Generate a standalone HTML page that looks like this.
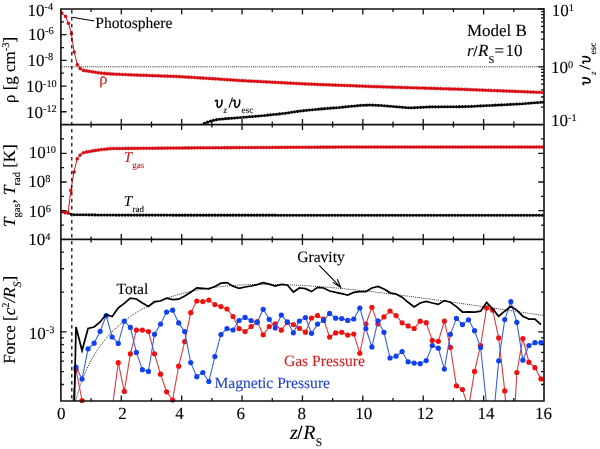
<!DOCTYPE html><html><head><meta charset="utf-8"><style>html,body{margin:0;padding:0;background:#fff;width:600px;height:449px;overflow:hidden}svg{display:block;will-change:transform}text{font-family:"Liberation Serif",serif;fill:#000;stroke:#000;stroke-width:0.1px;text-rendering:geometricPrecision}.it{font-style:italic}</style></head><body>
<svg width="600" height="449" viewBox="0 0 600 449">
<rect width="600" height="449" fill="#fff"/>
<defs>
<clipPath id="c1"><rect x="60.9" y="9" width="483.1" height="115.6"/></clipPath>
<clipPath id="c2"><rect x="60.9" y="124.6" width="483.1" height="114.8"/></clipPath>
<clipPath id="c3"><rect x="60.9" y="239.4" width="483.1" height="161.6"/></clipPath>
</defs>
<g clip-path="url(#c1)">
<path d="M61.7,13 L65.6,16.4 L68.5,23.3 L71.4,33.7 L74.2,52 L77.3,64.6 L80.2,68.6 L83.4,70.4 L86.4,70.85 L89.4,71.31 L92.4,71.78 L95.4,72.26 L98.4,72.74 L101.4,73.13 L104.4,73.4 L107.4,73.67 L110.4,73.92 L113.4,74.05 L116.4,74.18 L119.4,74.31 L122.4,74.44 L125.4,74.57 L128.4,74.7 L131.4,74.83 L134.4,74.96 L137.4,75.09 L140.4,75.21 L143.4,75.32 L146.4,75.42 L149.4,75.53 L152.4,75.63 L155.4,75.74 L158.4,75.84 L161.4,75.95 L164.4,76.05 L167.4,76.16 L170.4,76.26 L173.4,76.37 L176.4,76.47 L179.4,76.58 L182.4,76.75 L185.4,76.94 L188.4,77.13 L191.4,77.32 L194.4,77.51 L197.4,77.7 L200.4,77.89 L203.4,78.08 L206.4,78.27 L209.4,78.46 L212.4,78.66 L215.4,78.86 L218.4,79.06 L221.4,79.26 L224.4,79.46 L227.4,79.66 L230.4,79.86 L233.4,80.06 L236.4,80.26 L239.4,80.46 L242.4,80.63 L245.4,80.78 L248.4,80.94 L251.4,81.1 L254.4,81.25 L257.4,81.41 L260.4,81.57 L263.4,81.72 L266.4,81.88 L269.4,82.04 L272.4,82.19 L275.4,82.35 L278.4,82.51 L281.4,82.66 L284.4,82.82 L287.4,82.98 L290.4,83.13 L293.4,83.29 L296.4,83.45 L299.4,83.6 L302.4,83.76 L305.4,83.92 L308.4,84.05 L311.4,84.17 L314.4,84.28 L317.4,84.4 L320.4,84.51 L323.4,84.63 L326.4,84.74 L329.4,84.86 L332.4,84.97 L335.4,85.09 L338.4,85.2 L341.4,85.32 L344.4,85.43 L347.4,85.54 L350.4,85.66 L353.4,85.77 L356.4,85.89 L359.4,86 L362.4,86.12 L365.4,86.23 L368.4,86.35 L371.4,86.46 L374.4,86.58 L377.4,86.67 L380.4,86.77 L383.4,86.86 L386.4,86.95 L389.4,87.04 L392.4,87.13 L395.4,87.22 L398.4,87.32 L401.4,87.41 L404.4,87.5 L407.4,87.59 L410.4,87.68 L413.4,87.77 L416.4,87.87 L419.4,87.96 L422.4,88.05 L425.4,88.14 L428.4,88.23 L431.4,88.33 L434.4,88.42 L437.4,88.51 L440.4,88.6 L443.4,88.69 L446.4,88.78 L449.4,88.88 L452.4,88.97 L455.4,89.06 L458.4,89.15 L461.4,89.25 L464.4,89.37 L467.4,89.49 L470.4,89.61 L473.4,89.73 L476.4,89.84 L479.4,89.96 L482.4,90.08 L485.4,90.2 L488.4,90.32 L491.4,90.43 L494.4,90.55 L497.4,90.67 L500.4,90.79 L503.4,90.91 L506.4,91.02 L509.4,91.14 L512.4,91.26 L515.4,91.38 L518.4,91.49 L521.4,91.61 L524.4,91.73 L527.4,91.85 L530.4,91.97 L533.4,92.08 L536.4,92.2 L539.4,92.32 L542.4,92.44" fill="none" stroke="#e60a14" stroke-width="1"/>
<g fill="#e60a14" stroke="#b80000" stroke-width="0.4">
<circle cx="61.7" cy="13" r="1.55"/>
<circle cx="65.6" cy="16.4" r="1.55"/>
<circle cx="68.5" cy="23.3" r="1.55"/>
<circle cx="71.4" cy="33.7" r="1.55"/>
<circle cx="74.2" cy="52" r="1.55"/>
<circle cx="77.3" cy="64.6" r="1.55"/>
<circle cx="80.2" cy="68.6" r="1.55"/>
<circle cx="83.4" cy="70.4" r="1.55"/>
<circle cx="86.4" cy="70.85" r="1.55"/>
<circle cx="89.4" cy="71.31" r="1.55"/>
<circle cx="92.4" cy="71.78" r="1.55"/>
<circle cx="95.4" cy="72.26" r="1.55"/>
<circle cx="98.4" cy="72.74" r="1.55"/>
<circle cx="101.4" cy="73.13" r="1.55"/>
<circle cx="104.4" cy="73.4" r="1.55"/>
<circle cx="107.4" cy="73.67" r="1.55"/>
<circle cx="110.4" cy="73.92" r="1.55"/>
<circle cx="113.4" cy="74.05" r="1.55"/>
<circle cx="116.4" cy="74.18" r="1.55"/>
<circle cx="119.4" cy="74.31" r="1.55"/>
<circle cx="122.4" cy="74.44" r="1.55"/>
<circle cx="125.4" cy="74.57" r="1.55"/>
<circle cx="128.4" cy="74.7" r="1.55"/>
<circle cx="131.4" cy="74.83" r="1.55"/>
<circle cx="134.4" cy="74.96" r="1.55"/>
<circle cx="137.4" cy="75.09" r="1.55"/>
<circle cx="140.4" cy="75.21" r="1.55"/>
<circle cx="143.4" cy="75.32" r="1.55"/>
<circle cx="146.4" cy="75.42" r="1.55"/>
<circle cx="149.4" cy="75.53" r="1.55"/>
<circle cx="152.4" cy="75.63" r="1.55"/>
<circle cx="155.4" cy="75.74" r="1.55"/>
<circle cx="158.4" cy="75.84" r="1.55"/>
<circle cx="161.4" cy="75.95" r="1.55"/>
<circle cx="164.4" cy="76.05" r="1.55"/>
<circle cx="167.4" cy="76.16" r="1.55"/>
<circle cx="170.4" cy="76.26" r="1.55"/>
<circle cx="173.4" cy="76.37" r="1.55"/>
<circle cx="176.4" cy="76.47" r="1.55"/>
<circle cx="179.4" cy="76.58" r="1.55"/>
<circle cx="182.4" cy="76.75" r="1.55"/>
<circle cx="185.4" cy="76.94" r="1.55"/>
<circle cx="188.4" cy="77.13" r="1.55"/>
<circle cx="191.4" cy="77.32" r="1.55"/>
<circle cx="194.4" cy="77.51" r="1.55"/>
<circle cx="197.4" cy="77.7" r="1.55"/>
<circle cx="200.4" cy="77.89" r="1.55"/>
<circle cx="203.4" cy="78.08" r="1.55"/>
<circle cx="206.4" cy="78.27" r="1.55"/>
<circle cx="209.4" cy="78.46" r="1.55"/>
<circle cx="212.4" cy="78.66" r="1.55"/>
<circle cx="215.4" cy="78.86" r="1.55"/>
<circle cx="218.4" cy="79.06" r="1.55"/>
<circle cx="221.4" cy="79.26" r="1.55"/>
<circle cx="224.4" cy="79.46" r="1.55"/>
<circle cx="227.4" cy="79.66" r="1.55"/>
<circle cx="230.4" cy="79.86" r="1.55"/>
<circle cx="233.4" cy="80.06" r="1.55"/>
<circle cx="236.4" cy="80.26" r="1.55"/>
<circle cx="239.4" cy="80.46" r="1.55"/>
<circle cx="242.4" cy="80.63" r="1.55"/>
<circle cx="245.4" cy="80.78" r="1.55"/>
<circle cx="248.4" cy="80.94" r="1.55"/>
<circle cx="251.4" cy="81.1" r="1.55"/>
<circle cx="254.4" cy="81.25" r="1.55"/>
<circle cx="257.4" cy="81.41" r="1.55"/>
<circle cx="260.4" cy="81.57" r="1.55"/>
<circle cx="263.4" cy="81.72" r="1.55"/>
<circle cx="266.4" cy="81.88" r="1.55"/>
<circle cx="269.4" cy="82.04" r="1.55"/>
<circle cx="272.4" cy="82.19" r="1.55"/>
<circle cx="275.4" cy="82.35" r="1.55"/>
<circle cx="278.4" cy="82.51" r="1.55"/>
<circle cx="281.4" cy="82.66" r="1.55"/>
<circle cx="284.4" cy="82.82" r="1.55"/>
<circle cx="287.4" cy="82.98" r="1.55"/>
<circle cx="290.4" cy="83.13" r="1.55"/>
<circle cx="293.4" cy="83.29" r="1.55"/>
<circle cx="296.4" cy="83.45" r="1.55"/>
<circle cx="299.4" cy="83.6" r="1.55"/>
<circle cx="302.4" cy="83.76" r="1.55"/>
<circle cx="305.4" cy="83.92" r="1.55"/>
<circle cx="308.4" cy="84.05" r="1.55"/>
<circle cx="311.4" cy="84.17" r="1.55"/>
<circle cx="314.4" cy="84.28" r="1.55"/>
<circle cx="317.4" cy="84.4" r="1.55"/>
<circle cx="320.4" cy="84.51" r="1.55"/>
<circle cx="323.4" cy="84.63" r="1.55"/>
<circle cx="326.4" cy="84.74" r="1.55"/>
<circle cx="329.4" cy="84.86" r="1.55"/>
<circle cx="332.4" cy="84.97" r="1.55"/>
<circle cx="335.4" cy="85.09" r="1.55"/>
<circle cx="338.4" cy="85.2" r="1.55"/>
<circle cx="341.4" cy="85.32" r="1.55"/>
<circle cx="344.4" cy="85.43" r="1.55"/>
<circle cx="347.4" cy="85.54" r="1.55"/>
<circle cx="350.4" cy="85.66" r="1.55"/>
<circle cx="353.4" cy="85.77" r="1.55"/>
<circle cx="356.4" cy="85.89" r="1.55"/>
<circle cx="359.4" cy="86" r="1.55"/>
<circle cx="362.4" cy="86.12" r="1.55"/>
<circle cx="365.4" cy="86.23" r="1.55"/>
<circle cx="368.4" cy="86.35" r="1.55"/>
<circle cx="371.4" cy="86.46" r="1.55"/>
<circle cx="374.4" cy="86.58" r="1.55"/>
<circle cx="377.4" cy="86.67" r="1.55"/>
<circle cx="380.4" cy="86.77" r="1.55"/>
<circle cx="383.4" cy="86.86" r="1.55"/>
<circle cx="386.4" cy="86.95" r="1.55"/>
<circle cx="389.4" cy="87.04" r="1.55"/>
<circle cx="392.4" cy="87.13" r="1.55"/>
<circle cx="395.4" cy="87.22" r="1.55"/>
<circle cx="398.4" cy="87.32" r="1.55"/>
<circle cx="401.4" cy="87.41" r="1.55"/>
<circle cx="404.4" cy="87.5" r="1.55"/>
<circle cx="407.4" cy="87.59" r="1.55"/>
<circle cx="410.4" cy="87.68" r="1.55"/>
<circle cx="413.4" cy="87.77" r="1.55"/>
<circle cx="416.4" cy="87.87" r="1.55"/>
<circle cx="419.4" cy="87.96" r="1.55"/>
<circle cx="422.4" cy="88.05" r="1.55"/>
<circle cx="425.4" cy="88.14" r="1.55"/>
<circle cx="428.4" cy="88.23" r="1.55"/>
<circle cx="431.4" cy="88.33" r="1.55"/>
<circle cx="434.4" cy="88.42" r="1.55"/>
<circle cx="437.4" cy="88.51" r="1.55"/>
<circle cx="440.4" cy="88.6" r="1.55"/>
<circle cx="443.4" cy="88.69" r="1.55"/>
<circle cx="446.4" cy="88.78" r="1.55"/>
<circle cx="449.4" cy="88.88" r="1.55"/>
<circle cx="452.4" cy="88.97" r="1.55"/>
<circle cx="455.4" cy="89.06" r="1.55"/>
<circle cx="458.4" cy="89.15" r="1.55"/>
<circle cx="461.4" cy="89.25" r="1.55"/>
<circle cx="464.4" cy="89.37" r="1.55"/>
<circle cx="467.4" cy="89.49" r="1.55"/>
<circle cx="470.4" cy="89.61" r="1.55"/>
<circle cx="473.4" cy="89.73" r="1.55"/>
<circle cx="476.4" cy="89.84" r="1.55"/>
<circle cx="479.4" cy="89.96" r="1.55"/>
<circle cx="482.4" cy="90.08" r="1.55"/>
<circle cx="485.4" cy="90.2" r="1.55"/>
<circle cx="488.4" cy="90.32" r="1.55"/>
<circle cx="491.4" cy="90.43" r="1.55"/>
<circle cx="494.4" cy="90.55" r="1.55"/>
<circle cx="497.4" cy="90.67" r="1.55"/>
<circle cx="500.4" cy="90.79" r="1.55"/>
<circle cx="503.4" cy="90.91" r="1.55"/>
<circle cx="506.4" cy="91.02" r="1.55"/>
<circle cx="509.4" cy="91.14" r="1.55"/>
<circle cx="512.4" cy="91.26" r="1.55"/>
<circle cx="515.4" cy="91.38" r="1.55"/>
<circle cx="518.4" cy="91.49" r="1.55"/>
<circle cx="521.4" cy="91.61" r="1.55"/>
<circle cx="524.4" cy="91.73" r="1.55"/>
<circle cx="527.4" cy="91.85" r="1.55"/>
<circle cx="530.4" cy="91.97" r="1.55"/>
<circle cx="533.4" cy="92.08" r="1.55"/>
<circle cx="536.4" cy="92.2" r="1.55"/>
<circle cx="539.4" cy="92.32" r="1.55"/>
<circle cx="542.4" cy="92.44" r="1.55"/>
</g>
</g>
<g clip-path="url(#c1)">
<path d="M201.5,125 L204.5,123.25 L207.5,122.13 L210.5,121.08 L213.5,120.36 L216.5,119.64 L219.5,119.21 L222.5,118.93 L225.5,118.66 L228.5,118.42 L231.5,118.18 L234.5,117.94 L237.5,117.7 L240.5,117.46 L243.5,117.24 L246.5,117.02 L249.5,116.8 L252.5,116.58 L255.5,116.35 L258.5,116.05 L261.5,115.75 L264.5,115.45 L267.5,115.15 L270.5,114.85 L273.5,114.53 L276.5,114.21 L279.5,113.89 L282.5,113.57 L285.5,113.22 L288.5,112.76 L291.5,112.3 L294.5,111.84 L297.5,111.38 L300.5,110.95 L303.5,110.65 L306.5,110.35 L309.5,110.05 L312.5,109.75 L315.5,109.45 L318.5,109.15 L321.5,108.88 L324.5,108.64 L327.5,108.4 L330.5,108.16 L333.5,107.92 L336.5,107.68 L339.5,107.44 L342.5,107.15 L345.5,106.85 L348.5,106.55 L351.5,106.25 L354.5,105.95 L357.5,105.65 L360.5,105.38 L363.5,105.26 L366.5,105.14 L369.5,105.02 L372.5,105.1 L375.5,105.22 L378.5,105.34 L381.5,105.52 L384.5,105.76 L387.5,106 L390.5,106.24 L393.5,106.5 L396.5,106.75 L399.5,107.01 L402.5,107.26 L405.5,107.52 L408.5,107.77 L411.5,107.82 L414.5,107.66 L417.5,107.51 L420.5,107.35 L423.5,107.19 L426.5,107.03 L429.5,106.9 L432.5,106.87 L435.5,106.85 L438.5,106.83 L441.5,106.8 L444.5,106.78 L447.5,106.75 L450.5,106.73 L453.5,106.71 L456.5,106.68 L459.5,106.66 L462.5,106.64 L465.5,106.61 L468.5,106.52 L471.5,106.38 L474.5,106.22 L477.5,106.07 L480.5,105.92 L483.5,105.77 L486.5,105.62 L489.5,105.47 L492.5,105.33 L495.5,105.17 L498.5,105.02 L501.5,104.88 L504.5,104.72 L507.5,104.58 L510.5,104.42 L513.5,104.28 L516.5,104.12 L519.5,103.96 L522.5,103.73 L525.5,103.51 L528.5,103.28 L531.5,103.05 L534.5,102.82 L537.5,102.59 L540.5,102.37 L543.5,102.14" fill="none" stroke="#000" stroke-width="1"/>
<g fill="#000">
<circle cx="201.5" cy="125" r="1.55"/>
<circle cx="204.5" cy="123.25" r="1.55"/>
<circle cx="207.5" cy="122.13" r="1.55"/>
<circle cx="210.5" cy="121.08" r="1.55"/>
<circle cx="213.5" cy="120.36" r="1.55"/>
<circle cx="216.5" cy="119.64" r="1.55"/>
<circle cx="219.5" cy="119.21" r="1.55"/>
<circle cx="222.5" cy="118.93" r="1.55"/>
<circle cx="225.5" cy="118.66" r="1.55"/>
<circle cx="228.5" cy="118.42" r="1.55"/>
<circle cx="231.5" cy="118.18" r="1.55"/>
<circle cx="234.5" cy="117.94" r="1.55"/>
<circle cx="237.5" cy="117.7" r="1.55"/>
<circle cx="240.5" cy="117.46" r="1.55"/>
<circle cx="243.5" cy="117.24" r="1.55"/>
<circle cx="246.5" cy="117.02" r="1.55"/>
<circle cx="249.5" cy="116.8" r="1.55"/>
<circle cx="252.5" cy="116.58" r="1.55"/>
<circle cx="255.5" cy="116.35" r="1.55"/>
<circle cx="258.5" cy="116.05" r="1.55"/>
<circle cx="261.5" cy="115.75" r="1.55"/>
<circle cx="264.5" cy="115.45" r="1.55"/>
<circle cx="267.5" cy="115.15" r="1.55"/>
<circle cx="270.5" cy="114.85" r="1.55"/>
<circle cx="273.5" cy="114.53" r="1.55"/>
<circle cx="276.5" cy="114.21" r="1.55"/>
<circle cx="279.5" cy="113.89" r="1.55"/>
<circle cx="282.5" cy="113.57" r="1.55"/>
<circle cx="285.5" cy="113.22" r="1.55"/>
<circle cx="288.5" cy="112.76" r="1.55"/>
<circle cx="291.5" cy="112.3" r="1.55"/>
<circle cx="294.5" cy="111.84" r="1.55"/>
<circle cx="297.5" cy="111.38" r="1.55"/>
<circle cx="300.5" cy="110.95" r="1.55"/>
<circle cx="303.5" cy="110.65" r="1.55"/>
<circle cx="306.5" cy="110.35" r="1.55"/>
<circle cx="309.5" cy="110.05" r="1.55"/>
<circle cx="312.5" cy="109.75" r="1.55"/>
<circle cx="315.5" cy="109.45" r="1.55"/>
<circle cx="318.5" cy="109.15" r="1.55"/>
<circle cx="321.5" cy="108.88" r="1.55"/>
<circle cx="324.5" cy="108.64" r="1.55"/>
<circle cx="327.5" cy="108.4" r="1.55"/>
<circle cx="330.5" cy="108.16" r="1.55"/>
<circle cx="333.5" cy="107.92" r="1.55"/>
<circle cx="336.5" cy="107.68" r="1.55"/>
<circle cx="339.5" cy="107.44" r="1.55"/>
<circle cx="342.5" cy="107.15" r="1.55"/>
<circle cx="345.5" cy="106.85" r="1.55"/>
<circle cx="348.5" cy="106.55" r="1.55"/>
<circle cx="351.5" cy="106.25" r="1.55"/>
<circle cx="354.5" cy="105.95" r="1.55"/>
<circle cx="357.5" cy="105.65" r="1.55"/>
<circle cx="360.5" cy="105.38" r="1.55"/>
<circle cx="363.5" cy="105.26" r="1.55"/>
<circle cx="366.5" cy="105.14" r="1.55"/>
<circle cx="369.5" cy="105.02" r="1.55"/>
<circle cx="372.5" cy="105.1" r="1.55"/>
<circle cx="375.5" cy="105.22" r="1.55"/>
<circle cx="378.5" cy="105.34" r="1.55"/>
<circle cx="381.5" cy="105.52" r="1.55"/>
<circle cx="384.5" cy="105.76" r="1.55"/>
<circle cx="387.5" cy="106" r="1.55"/>
<circle cx="390.5" cy="106.24" r="1.55"/>
<circle cx="393.5" cy="106.5" r="1.55"/>
<circle cx="396.5" cy="106.75" r="1.55"/>
<circle cx="399.5" cy="107.01" r="1.55"/>
<circle cx="402.5" cy="107.26" r="1.55"/>
<circle cx="405.5" cy="107.52" r="1.55"/>
<circle cx="408.5" cy="107.77" r="1.55"/>
<circle cx="411.5" cy="107.82" r="1.55"/>
<circle cx="414.5" cy="107.66" r="1.55"/>
<circle cx="417.5" cy="107.51" r="1.55"/>
<circle cx="420.5" cy="107.35" r="1.55"/>
<circle cx="423.5" cy="107.19" r="1.55"/>
<circle cx="426.5" cy="107.03" r="1.55"/>
<circle cx="429.5" cy="106.9" r="1.55"/>
<circle cx="432.5" cy="106.87" r="1.55"/>
<circle cx="435.5" cy="106.85" r="1.55"/>
<circle cx="438.5" cy="106.83" r="1.55"/>
<circle cx="441.5" cy="106.8" r="1.55"/>
<circle cx="444.5" cy="106.78" r="1.55"/>
<circle cx="447.5" cy="106.75" r="1.55"/>
<circle cx="450.5" cy="106.73" r="1.55"/>
<circle cx="453.5" cy="106.71" r="1.55"/>
<circle cx="456.5" cy="106.68" r="1.55"/>
<circle cx="459.5" cy="106.66" r="1.55"/>
<circle cx="462.5" cy="106.64" r="1.55"/>
<circle cx="465.5" cy="106.61" r="1.55"/>
<circle cx="468.5" cy="106.52" r="1.55"/>
<circle cx="471.5" cy="106.38" r="1.55"/>
<circle cx="474.5" cy="106.22" r="1.55"/>
<circle cx="477.5" cy="106.07" r="1.55"/>
<circle cx="480.5" cy="105.92" r="1.55"/>
<circle cx="483.5" cy="105.77" r="1.55"/>
<circle cx="486.5" cy="105.62" r="1.55"/>
<circle cx="489.5" cy="105.47" r="1.55"/>
<circle cx="492.5" cy="105.33" r="1.55"/>
<circle cx="495.5" cy="105.17" r="1.55"/>
<circle cx="498.5" cy="105.02" r="1.55"/>
<circle cx="501.5" cy="104.88" r="1.55"/>
<circle cx="504.5" cy="104.72" r="1.55"/>
<circle cx="507.5" cy="104.58" r="1.55"/>
<circle cx="510.5" cy="104.42" r="1.55"/>
<circle cx="513.5" cy="104.28" r="1.55"/>
<circle cx="516.5" cy="104.12" r="1.55"/>
<circle cx="519.5" cy="103.96" r="1.55"/>
<circle cx="522.5" cy="103.73" r="1.55"/>
<circle cx="525.5" cy="103.51" r="1.55"/>
<circle cx="528.5" cy="103.28" r="1.55"/>
<circle cx="531.5" cy="103.05" r="1.55"/>
<circle cx="534.5" cy="102.82" r="1.55"/>
<circle cx="537.5" cy="102.59" r="1.55"/>
<circle cx="540.5" cy="102.37" r="1.55"/>
<circle cx="543.5" cy="102.14" r="1.55"/>
</g>
</g>
<line x1="61.9" y1="66.8" x2="544" y2="66.8" stroke="#222" stroke-width="1" stroke-dasharray="1 1.1"/>
<g clip-path="url(#c2)">
<path d="M61.9,211.7 L65.1,212.6 L68.1,213 L71.2,214.29 L74.2,214.72 L77.2,214.74 L80.2,214.77 L83.2,214.8 L86.2,214.82 L89.2,214.85 L92.2,214.87 L95.2,214.9 L98.2,214.93 L101.2,214.95 L104.2,214.98 L107.2,215.01 L110.2,215.03 L113.2,215.06 L116.2,215.08 L119.2,215.1 L122.2,215.1 L125.2,215.1 L128.2,215.1 L131.2,215.11 L134.2,215.11 L137.2,215.11 L140.2,215.11 L143.2,215.11 L146.2,215.11 L149.2,215.11 L152.2,215.12 L155.2,215.12 L158.2,215.12 L161.2,215.12 L164.2,215.12 L167.2,215.12 L170.2,215.12 L173.2,215.13 L176.2,215.13 L179.2,215.13 L182.2,215.13 L185.2,215.13 L188.2,215.13 L191.2,215.13 L194.2,215.14 L197.2,215.14 L200.2,215.14 L203.2,215.14 L206.2,215.14 L209.2,215.14 L212.2,215.14 L215.2,215.15 L218.2,215.15 L221.2,215.15 L224.2,215.15 L227.2,215.15 L230.2,215.15 L233.2,215.15 L236.2,215.16 L239.2,215.16 L242.2,215.16 L245.2,215.16 L248.2,215.16 L251.2,215.16 L254.2,215.16 L257.2,215.17 L260.2,215.17 L263.2,215.17 L266.2,215.17 L269.2,215.17 L272.2,215.17 L275.2,215.17 L278.2,215.18 L281.2,215.18 L284.2,215.18 L287.2,215.18 L290.2,215.18 L293.2,215.18 L296.2,215.18 L299.2,215.19 L302.2,215.19 L305.2,215.19 L308.2,215.19 L311.2,215.19 L314.2,215.19 L317.2,215.19 L320.2,215.19 L323.2,215.2 L326.2,215.2 L329.2,215.2 L332.2,215.2 L335.2,215.2 L338.2,215.2 L341.2,215.2 L344.2,215.21 L347.2,215.21 L350.2,215.21 L353.2,215.21 L356.2,215.21 L359.2,215.21 L362.2,215.21 L365.2,215.22 L368.2,215.22 L371.2,215.22 L374.2,215.22 L377.2,215.22 L380.2,215.22 L383.2,215.22 L386.2,215.23 L389.2,215.23 L392.2,215.23 L395.2,215.23 L398.2,215.23 L401.2,215.23 L404.2,215.23 L407.2,215.24 L410.2,215.24 L413.2,215.24 L416.2,215.24 L419.2,215.24 L422.2,215.24 L425.2,215.24 L428.2,215.25 L431.2,215.25 L434.2,215.25 L437.2,215.25 L440.2,215.25 L443.2,215.25 L446.2,215.25 L449.2,215.26 L452.2,215.26 L455.2,215.26 L458.2,215.26 L461.2,215.26 L464.2,215.26 L467.2,215.26 L470.2,215.27 L473.2,215.27 L476.2,215.27 L479.2,215.27 L482.2,215.27 L485.2,215.27 L488.2,215.27 L491.2,215.28 L494.2,215.28 L497.2,215.28 L500.2,215.28 L503.2,215.28 L506.2,215.28 L509.2,215.28 L512.2,215.29 L515.2,215.29 L518.2,215.29 L521.2,215.29 L524.2,215.29 L527.2,215.29 L530.2,215.29 L533.2,215.29 L536.2,215.3 L539.2,215.3 L542.2,215.3" fill="none" stroke="#000" stroke-width="1"/>
<g fill="#000">
<circle cx="61.9" cy="211.7" r="1.55"/>
<circle cx="65.1" cy="212.6" r="1.55"/>
<circle cx="68.1" cy="213" r="1.55"/>
<circle cx="71.2" cy="214.29" r="1.55"/>
<circle cx="74.2" cy="214.72" r="1.55"/>
<circle cx="77.2" cy="214.74" r="1.55"/>
<circle cx="80.2" cy="214.77" r="1.55"/>
<circle cx="83.2" cy="214.8" r="1.55"/>
<circle cx="86.2" cy="214.82" r="1.55"/>
<circle cx="89.2" cy="214.85" r="1.55"/>
<circle cx="92.2" cy="214.87" r="1.55"/>
<circle cx="95.2" cy="214.9" r="1.55"/>
<circle cx="98.2" cy="214.93" r="1.55"/>
<circle cx="101.2" cy="214.95" r="1.55"/>
<circle cx="104.2" cy="214.98" r="1.55"/>
<circle cx="107.2" cy="215.01" r="1.55"/>
<circle cx="110.2" cy="215.03" r="1.55"/>
<circle cx="113.2" cy="215.06" r="1.55"/>
<circle cx="116.2" cy="215.08" r="1.55"/>
<circle cx="119.2" cy="215.1" r="1.55"/>
<circle cx="122.2" cy="215.1" r="1.55"/>
<circle cx="125.2" cy="215.1" r="1.55"/>
<circle cx="128.2" cy="215.1" r="1.55"/>
<circle cx="131.2" cy="215.11" r="1.55"/>
<circle cx="134.2" cy="215.11" r="1.55"/>
<circle cx="137.2" cy="215.11" r="1.55"/>
<circle cx="140.2" cy="215.11" r="1.55"/>
<circle cx="143.2" cy="215.11" r="1.55"/>
<circle cx="146.2" cy="215.11" r="1.55"/>
<circle cx="149.2" cy="215.11" r="1.55"/>
<circle cx="152.2" cy="215.12" r="1.55"/>
<circle cx="155.2" cy="215.12" r="1.55"/>
<circle cx="158.2" cy="215.12" r="1.55"/>
<circle cx="161.2" cy="215.12" r="1.55"/>
<circle cx="164.2" cy="215.12" r="1.55"/>
<circle cx="167.2" cy="215.12" r="1.55"/>
<circle cx="170.2" cy="215.12" r="1.55"/>
<circle cx="173.2" cy="215.13" r="1.55"/>
<circle cx="176.2" cy="215.13" r="1.55"/>
<circle cx="179.2" cy="215.13" r="1.55"/>
<circle cx="182.2" cy="215.13" r="1.55"/>
<circle cx="185.2" cy="215.13" r="1.55"/>
<circle cx="188.2" cy="215.13" r="1.55"/>
<circle cx="191.2" cy="215.13" r="1.55"/>
<circle cx="194.2" cy="215.14" r="1.55"/>
<circle cx="197.2" cy="215.14" r="1.55"/>
<circle cx="200.2" cy="215.14" r="1.55"/>
<circle cx="203.2" cy="215.14" r="1.55"/>
<circle cx="206.2" cy="215.14" r="1.55"/>
<circle cx="209.2" cy="215.14" r="1.55"/>
<circle cx="212.2" cy="215.14" r="1.55"/>
<circle cx="215.2" cy="215.15" r="1.55"/>
<circle cx="218.2" cy="215.15" r="1.55"/>
<circle cx="221.2" cy="215.15" r="1.55"/>
<circle cx="224.2" cy="215.15" r="1.55"/>
<circle cx="227.2" cy="215.15" r="1.55"/>
<circle cx="230.2" cy="215.15" r="1.55"/>
<circle cx="233.2" cy="215.15" r="1.55"/>
<circle cx="236.2" cy="215.16" r="1.55"/>
<circle cx="239.2" cy="215.16" r="1.55"/>
<circle cx="242.2" cy="215.16" r="1.55"/>
<circle cx="245.2" cy="215.16" r="1.55"/>
<circle cx="248.2" cy="215.16" r="1.55"/>
<circle cx="251.2" cy="215.16" r="1.55"/>
<circle cx="254.2" cy="215.16" r="1.55"/>
<circle cx="257.2" cy="215.17" r="1.55"/>
<circle cx="260.2" cy="215.17" r="1.55"/>
<circle cx="263.2" cy="215.17" r="1.55"/>
<circle cx="266.2" cy="215.17" r="1.55"/>
<circle cx="269.2" cy="215.17" r="1.55"/>
<circle cx="272.2" cy="215.17" r="1.55"/>
<circle cx="275.2" cy="215.17" r="1.55"/>
<circle cx="278.2" cy="215.18" r="1.55"/>
<circle cx="281.2" cy="215.18" r="1.55"/>
<circle cx="284.2" cy="215.18" r="1.55"/>
<circle cx="287.2" cy="215.18" r="1.55"/>
<circle cx="290.2" cy="215.18" r="1.55"/>
<circle cx="293.2" cy="215.18" r="1.55"/>
<circle cx="296.2" cy="215.18" r="1.55"/>
<circle cx="299.2" cy="215.19" r="1.55"/>
<circle cx="302.2" cy="215.19" r="1.55"/>
<circle cx="305.2" cy="215.19" r="1.55"/>
<circle cx="308.2" cy="215.19" r="1.55"/>
<circle cx="311.2" cy="215.19" r="1.55"/>
<circle cx="314.2" cy="215.19" r="1.55"/>
<circle cx="317.2" cy="215.19" r="1.55"/>
<circle cx="320.2" cy="215.19" r="1.55"/>
<circle cx="323.2" cy="215.2" r="1.55"/>
<circle cx="326.2" cy="215.2" r="1.55"/>
<circle cx="329.2" cy="215.2" r="1.55"/>
<circle cx="332.2" cy="215.2" r="1.55"/>
<circle cx="335.2" cy="215.2" r="1.55"/>
<circle cx="338.2" cy="215.2" r="1.55"/>
<circle cx="341.2" cy="215.2" r="1.55"/>
<circle cx="344.2" cy="215.21" r="1.55"/>
<circle cx="347.2" cy="215.21" r="1.55"/>
<circle cx="350.2" cy="215.21" r="1.55"/>
<circle cx="353.2" cy="215.21" r="1.55"/>
<circle cx="356.2" cy="215.21" r="1.55"/>
<circle cx="359.2" cy="215.21" r="1.55"/>
<circle cx="362.2" cy="215.21" r="1.55"/>
<circle cx="365.2" cy="215.22" r="1.55"/>
<circle cx="368.2" cy="215.22" r="1.55"/>
<circle cx="371.2" cy="215.22" r="1.55"/>
<circle cx="374.2" cy="215.22" r="1.55"/>
<circle cx="377.2" cy="215.22" r="1.55"/>
<circle cx="380.2" cy="215.22" r="1.55"/>
<circle cx="383.2" cy="215.22" r="1.55"/>
<circle cx="386.2" cy="215.23" r="1.55"/>
<circle cx="389.2" cy="215.23" r="1.55"/>
<circle cx="392.2" cy="215.23" r="1.55"/>
<circle cx="395.2" cy="215.23" r="1.55"/>
<circle cx="398.2" cy="215.23" r="1.55"/>
<circle cx="401.2" cy="215.23" r="1.55"/>
<circle cx="404.2" cy="215.23" r="1.55"/>
<circle cx="407.2" cy="215.24" r="1.55"/>
<circle cx="410.2" cy="215.24" r="1.55"/>
<circle cx="413.2" cy="215.24" r="1.55"/>
<circle cx="416.2" cy="215.24" r="1.55"/>
<circle cx="419.2" cy="215.24" r="1.55"/>
<circle cx="422.2" cy="215.24" r="1.55"/>
<circle cx="425.2" cy="215.24" r="1.55"/>
<circle cx="428.2" cy="215.25" r="1.55"/>
<circle cx="431.2" cy="215.25" r="1.55"/>
<circle cx="434.2" cy="215.25" r="1.55"/>
<circle cx="437.2" cy="215.25" r="1.55"/>
<circle cx="440.2" cy="215.25" r="1.55"/>
<circle cx="443.2" cy="215.25" r="1.55"/>
<circle cx="446.2" cy="215.25" r="1.55"/>
<circle cx="449.2" cy="215.26" r="1.55"/>
<circle cx="452.2" cy="215.26" r="1.55"/>
<circle cx="455.2" cy="215.26" r="1.55"/>
<circle cx="458.2" cy="215.26" r="1.55"/>
<circle cx="461.2" cy="215.26" r="1.55"/>
<circle cx="464.2" cy="215.26" r="1.55"/>
<circle cx="467.2" cy="215.26" r="1.55"/>
<circle cx="470.2" cy="215.27" r="1.55"/>
<circle cx="473.2" cy="215.27" r="1.55"/>
<circle cx="476.2" cy="215.27" r="1.55"/>
<circle cx="479.2" cy="215.27" r="1.55"/>
<circle cx="482.2" cy="215.27" r="1.55"/>
<circle cx="485.2" cy="215.27" r="1.55"/>
<circle cx="488.2" cy="215.27" r="1.55"/>
<circle cx="491.2" cy="215.28" r="1.55"/>
<circle cx="494.2" cy="215.28" r="1.55"/>
<circle cx="497.2" cy="215.28" r="1.55"/>
<circle cx="500.2" cy="215.28" r="1.55"/>
<circle cx="503.2" cy="215.28" r="1.55"/>
<circle cx="506.2" cy="215.28" r="1.55"/>
<circle cx="509.2" cy="215.28" r="1.55"/>
<circle cx="512.2" cy="215.29" r="1.55"/>
<circle cx="515.2" cy="215.29" r="1.55"/>
<circle cx="518.2" cy="215.29" r="1.55"/>
<circle cx="521.2" cy="215.29" r="1.55"/>
<circle cx="524.2" cy="215.29" r="1.55"/>
<circle cx="527.2" cy="215.29" r="1.55"/>
<circle cx="530.2" cy="215.29" r="1.55"/>
<circle cx="533.2" cy="215.29" r="1.55"/>
<circle cx="536.2" cy="215.3" r="1.55"/>
<circle cx="539.2" cy="215.3" r="1.55"/>
<circle cx="542.2" cy="215.3" r="1.55"/>
</g>
</g>
<g clip-path="url(#c2)">
<path d="M61.9,211.7 L65.1,212.6 L68.1,212.8 L70.8,190.4 L74,172 L77.2,158.7 L80.2,155.1 L83.4,152.8 L86.5,151.9 L89.5,151.47 L92.5,150.91 L95.5,150.42 L98.5,149.98 L101.5,149.55 L104.5,149.2 L107.5,148.89 L110.5,148.59 L113.5,148.49 L116.5,148.47 L119.5,148.46 L122.5,148.44 L125.5,148.42 L128.5,148.41 L131.5,148.39 L134.5,148.36 L137.5,148.34 L140.5,148.31 L143.5,148.28 L146.5,148.26 L149.5,148.23 L152.5,148.21 L155.5,148.18 L158.5,148.16 L161.5,148.13 L164.5,148.1 L167.5,148.08 L170.5,148.05 L173.5,148.03 L176.5,148 L179.5,147.98 L182.5,147.95 L185.5,147.92 L188.5,147.9 L191.5,147.87 L194.5,147.85 L197.5,147.82 L200.5,147.8 L203.5,147.78 L206.5,147.77 L209.5,147.75 L212.5,147.73 L215.5,147.72 L218.5,147.7 L221.5,147.69 L224.5,147.67 L227.5,147.65 L230.5,147.64 L233.5,147.62 L236.5,147.61 L239.5,147.59 L242.5,147.57 L245.5,147.56 L248.5,147.54 L251.5,147.53 L254.5,147.51 L257.5,147.49 L260.5,147.48 L263.5,147.46 L266.5,147.45 L269.5,147.43 L272.5,147.41 L275.5,147.4 L278.5,147.38 L281.5,147.37 L284.5,147.35 L287.5,147.33 L290.5,147.32 L293.5,147.3 L296.5,147.29 L299.5,147.27 L302.5,147.25 L305.5,147.24 L308.5,147.22 L311.5,147.21 L314.5,147.19 L317.5,147.17 L320.5,147.16 L323.5,147.14 L326.5,147.13 L329.5,147.11 L332.5,147.09 L335.5,147.08 L338.5,147.06 L341.5,147.05 L344.5,147.03 L347.5,147.01 L350.5,147 L353.5,147 L356.5,147 L359.5,147 L362.5,147 L365.5,147 L368.5,147 L371.5,147 L374.5,147 L377.5,147 L380.5,147 L383.5,147 L386.5,147 L389.5,147 L392.5,147 L395.5,147 L398.5,147 L401.5,147 L404.5,147 L407.5,147 L410.5,147 L413.5,147 L416.5,147 L419.5,147 L422.5,147 L425.5,147 L428.5,147 L431.5,147 L434.5,147 L437.5,147 L440.5,147 L443.5,147 L446.5,147 L449.5,147 L452.5,147 L455.5,147 L458.5,147 L461.5,147 L464.5,147 L467.5,147 L470.5,147 L473.5,147 L476.5,147 L479.5,147 L482.5,147 L485.5,147 L488.5,147 L491.5,147 L494.5,147 L497.5,147 L500.5,147 L503.5,147 L506.5,147 L509.5,147 L512.5,147 L515.5,147 L518.5,147 L521.5,147 L524.5,147 L527.5,147 L530.5,147 L533.5,147 L536.5,147 L539.5,147 L542.5,147" fill="none" stroke="#e60a14" stroke-width="1"/>
<g fill="#e60a14" stroke="#b80000" stroke-width="0.4">
<circle cx="61.9" cy="211.7" r="1.55"/>
<circle cx="65.1" cy="212.6" r="1.55"/>
<circle cx="68.1" cy="212.8" r="1.55"/>
<circle cx="70.8" cy="190.4" r="1.55"/>
<circle cx="74" cy="172" r="1.55"/>
<circle cx="77.2" cy="158.7" r="1.55"/>
<circle cx="80.2" cy="155.1" r="1.55"/>
<circle cx="83.4" cy="152.8" r="1.55"/>
<circle cx="86.5" cy="151.9" r="1.55"/>
<circle cx="89.5" cy="151.47" r="1.55"/>
<circle cx="92.5" cy="150.91" r="1.55"/>
<circle cx="95.5" cy="150.42" r="1.55"/>
<circle cx="98.5" cy="149.98" r="1.55"/>
<circle cx="101.5" cy="149.55" r="1.55"/>
<circle cx="104.5" cy="149.2" r="1.55"/>
<circle cx="107.5" cy="148.89" r="1.55"/>
<circle cx="110.5" cy="148.59" r="1.55"/>
<circle cx="113.5" cy="148.49" r="1.55"/>
<circle cx="116.5" cy="148.47" r="1.55"/>
<circle cx="119.5" cy="148.46" r="1.55"/>
<circle cx="122.5" cy="148.44" r="1.55"/>
<circle cx="125.5" cy="148.42" r="1.55"/>
<circle cx="128.5" cy="148.41" r="1.55"/>
<circle cx="131.5" cy="148.39" r="1.55"/>
<circle cx="134.5" cy="148.36" r="1.55"/>
<circle cx="137.5" cy="148.34" r="1.55"/>
<circle cx="140.5" cy="148.31" r="1.55"/>
<circle cx="143.5" cy="148.28" r="1.55"/>
<circle cx="146.5" cy="148.26" r="1.55"/>
<circle cx="149.5" cy="148.23" r="1.55"/>
<circle cx="152.5" cy="148.21" r="1.55"/>
<circle cx="155.5" cy="148.18" r="1.55"/>
<circle cx="158.5" cy="148.16" r="1.55"/>
<circle cx="161.5" cy="148.13" r="1.55"/>
<circle cx="164.5" cy="148.1" r="1.55"/>
<circle cx="167.5" cy="148.08" r="1.55"/>
<circle cx="170.5" cy="148.05" r="1.55"/>
<circle cx="173.5" cy="148.03" r="1.55"/>
<circle cx="176.5" cy="148" r="1.55"/>
<circle cx="179.5" cy="147.98" r="1.55"/>
<circle cx="182.5" cy="147.95" r="1.55"/>
<circle cx="185.5" cy="147.92" r="1.55"/>
<circle cx="188.5" cy="147.9" r="1.55"/>
<circle cx="191.5" cy="147.87" r="1.55"/>
<circle cx="194.5" cy="147.85" r="1.55"/>
<circle cx="197.5" cy="147.82" r="1.55"/>
<circle cx="200.5" cy="147.8" r="1.55"/>
<circle cx="203.5" cy="147.78" r="1.55"/>
<circle cx="206.5" cy="147.77" r="1.55"/>
<circle cx="209.5" cy="147.75" r="1.55"/>
<circle cx="212.5" cy="147.73" r="1.55"/>
<circle cx="215.5" cy="147.72" r="1.55"/>
<circle cx="218.5" cy="147.7" r="1.55"/>
<circle cx="221.5" cy="147.69" r="1.55"/>
<circle cx="224.5" cy="147.67" r="1.55"/>
<circle cx="227.5" cy="147.65" r="1.55"/>
<circle cx="230.5" cy="147.64" r="1.55"/>
<circle cx="233.5" cy="147.62" r="1.55"/>
<circle cx="236.5" cy="147.61" r="1.55"/>
<circle cx="239.5" cy="147.59" r="1.55"/>
<circle cx="242.5" cy="147.57" r="1.55"/>
<circle cx="245.5" cy="147.56" r="1.55"/>
<circle cx="248.5" cy="147.54" r="1.55"/>
<circle cx="251.5" cy="147.53" r="1.55"/>
<circle cx="254.5" cy="147.51" r="1.55"/>
<circle cx="257.5" cy="147.49" r="1.55"/>
<circle cx="260.5" cy="147.48" r="1.55"/>
<circle cx="263.5" cy="147.46" r="1.55"/>
<circle cx="266.5" cy="147.45" r="1.55"/>
<circle cx="269.5" cy="147.43" r="1.55"/>
<circle cx="272.5" cy="147.41" r="1.55"/>
<circle cx="275.5" cy="147.4" r="1.55"/>
<circle cx="278.5" cy="147.38" r="1.55"/>
<circle cx="281.5" cy="147.37" r="1.55"/>
<circle cx="284.5" cy="147.35" r="1.55"/>
<circle cx="287.5" cy="147.33" r="1.55"/>
<circle cx="290.5" cy="147.32" r="1.55"/>
<circle cx="293.5" cy="147.3" r="1.55"/>
<circle cx="296.5" cy="147.29" r="1.55"/>
<circle cx="299.5" cy="147.27" r="1.55"/>
<circle cx="302.5" cy="147.25" r="1.55"/>
<circle cx="305.5" cy="147.24" r="1.55"/>
<circle cx="308.5" cy="147.22" r="1.55"/>
<circle cx="311.5" cy="147.21" r="1.55"/>
<circle cx="314.5" cy="147.19" r="1.55"/>
<circle cx="317.5" cy="147.17" r="1.55"/>
<circle cx="320.5" cy="147.16" r="1.55"/>
<circle cx="323.5" cy="147.14" r="1.55"/>
<circle cx="326.5" cy="147.13" r="1.55"/>
<circle cx="329.5" cy="147.11" r="1.55"/>
<circle cx="332.5" cy="147.09" r="1.55"/>
<circle cx="335.5" cy="147.08" r="1.55"/>
<circle cx="338.5" cy="147.06" r="1.55"/>
<circle cx="341.5" cy="147.05" r="1.55"/>
<circle cx="344.5" cy="147.03" r="1.55"/>
<circle cx="347.5" cy="147.01" r="1.55"/>
<circle cx="350.5" cy="147" r="1.55"/>
<circle cx="353.5" cy="147" r="1.55"/>
<circle cx="356.5" cy="147" r="1.55"/>
<circle cx="359.5" cy="147" r="1.55"/>
<circle cx="362.5" cy="147" r="1.55"/>
<circle cx="365.5" cy="147" r="1.55"/>
<circle cx="368.5" cy="147" r="1.55"/>
<circle cx="371.5" cy="147" r="1.55"/>
<circle cx="374.5" cy="147" r="1.55"/>
<circle cx="377.5" cy="147" r="1.55"/>
<circle cx="380.5" cy="147" r="1.55"/>
<circle cx="383.5" cy="147" r="1.55"/>
<circle cx="386.5" cy="147" r="1.55"/>
<circle cx="389.5" cy="147" r="1.55"/>
<circle cx="392.5" cy="147" r="1.55"/>
<circle cx="395.5" cy="147" r="1.55"/>
<circle cx="398.5" cy="147" r="1.55"/>
<circle cx="401.5" cy="147" r="1.55"/>
<circle cx="404.5" cy="147" r="1.55"/>
<circle cx="407.5" cy="147" r="1.55"/>
<circle cx="410.5" cy="147" r="1.55"/>
<circle cx="413.5" cy="147" r="1.55"/>
<circle cx="416.5" cy="147" r="1.55"/>
<circle cx="419.5" cy="147" r="1.55"/>
<circle cx="422.5" cy="147" r="1.55"/>
<circle cx="425.5" cy="147" r="1.55"/>
<circle cx="428.5" cy="147" r="1.55"/>
<circle cx="431.5" cy="147" r="1.55"/>
<circle cx="434.5" cy="147" r="1.55"/>
<circle cx="437.5" cy="147" r="1.55"/>
<circle cx="440.5" cy="147" r="1.55"/>
<circle cx="443.5" cy="147" r="1.55"/>
<circle cx="446.5" cy="147" r="1.55"/>
<circle cx="449.5" cy="147" r="1.55"/>
<circle cx="452.5" cy="147" r="1.55"/>
<circle cx="455.5" cy="147" r="1.55"/>
<circle cx="458.5" cy="147" r="1.55"/>
<circle cx="461.5" cy="147" r="1.55"/>
<circle cx="464.5" cy="147" r="1.55"/>
<circle cx="467.5" cy="147" r="1.55"/>
<circle cx="470.5" cy="147" r="1.55"/>
<circle cx="473.5" cy="147" r="1.55"/>
<circle cx="476.5" cy="147" r="1.55"/>
<circle cx="479.5" cy="147" r="1.55"/>
<circle cx="482.5" cy="147" r="1.55"/>
<circle cx="485.5" cy="147" r="1.55"/>
<circle cx="488.5" cy="147" r="1.55"/>
<circle cx="491.5" cy="147" r="1.55"/>
<circle cx="494.5" cy="147" r="1.55"/>
<circle cx="497.5" cy="147" r="1.55"/>
<circle cx="500.5" cy="147" r="1.55"/>
<circle cx="503.5" cy="147" r="1.55"/>
<circle cx="506.5" cy="147" r="1.55"/>
<circle cx="509.5" cy="147" r="1.55"/>
<circle cx="512.5" cy="147" r="1.55"/>
<circle cx="515.5" cy="147" r="1.55"/>
<circle cx="518.5" cy="147" r="1.55"/>
<circle cx="521.5" cy="147" r="1.55"/>
<circle cx="524.5" cy="147" r="1.55"/>
<circle cx="527.5" cy="147" r="1.55"/>
<circle cx="530.5" cy="147" r="1.55"/>
<circle cx="533.5" cy="147" r="1.55"/>
<circle cx="536.5" cy="147" r="1.55"/>
<circle cx="539.5" cy="147" r="1.55"/>
<circle cx="542.5" cy="147" r="1.55"/>
</g>
</g>
<g clip-path="url(#c3)">
<path d="M71.47,419.97 L72.98,412.33 L74.49,405.61 L76,399.6 L77.51,394.17 L79.02,389.23 L80.53,384.69 L82.04,380.49 L83.55,376.6 L85.06,372.96 L86.56,369.56 L88.07,366.35 L89.58,363.33 L91.09,360.48 L92.6,357.77 L94.11,355.19 L95.62,352.74 L97.13,350.41 L98.64,348.17 L100.15,346.04 L101.66,343.99 L103.17,342.02 L104.68,340.14 L106.19,338.32 L107.7,336.58 L109.21,334.9 L110.72,333.28 L112.23,331.71 L113.74,330.2 L115.25,328.74 L116.76,327.33 L118.27,325.97 L119.78,324.65 L121.29,323.37 L122.8,322.13 L124.31,320.93 L125.82,319.77 L127.33,318.64 L128.84,317.54 L130.35,316.48 L131.86,315.45 L133.36,314.45 L134.87,313.47 L136.38,312.53 L137.89,311.61 L139.4,310.72 L140.91,309.85 L142.42,309.01 L143.93,308.19 L145.44,307.39 L146.95,306.61 L148.46,305.86 L149.97,305.13 L151.48,304.41 L152.99,303.72 L154.5,303.04 L156.01,302.39 L157.52,301.75 L159.03,301.13 L160.54,300.52 L162.05,299.94 L163.56,299.36 L165.07,298.81 L166.58,298.27 L168.09,297.74 L169.6,297.23 L171.11,296.73 L172.62,296.25 L174.13,295.78 L175.64,295.32 L177.15,294.88 L178.66,294.45 L180.17,294.03 L181.67,293.62 L183.18,293.23 L184.69,292.85 L186.2,292.47 L187.71,292.11 L189.22,291.76 L190.73,291.42 L192.24,291.1 L193.75,290.78 L195.26,290.47 L196.77,290.17 L198.28,289.88 L199.79,289.6 L201.3,289.33 L202.81,289.07 L204.32,288.81 L205.83,288.57 L207.34,288.33 L208.85,288.11 L210.36,287.89 L211.87,287.68 L213.38,287.47 L214.89,287.28 L216.4,287.09 L217.91,286.91 L219.42,286.74 L220.93,286.57 L222.44,286.41 L223.95,286.26 L225.46,286.11 L226.97,285.98 L228.48,285.84 L229.98,285.72 L231.49,285.6 L233,285.49 L234.51,285.38 L236.02,285.28 L237.53,285.18 L239.04,285.1 L240.55,285.01 L242.06,284.94 L243.57,284.86 L245.08,284.8 L246.59,284.74 L248.1,284.68 L249.61,284.63 L251.12,284.58 L252.63,284.54 L254.14,284.51 L255.65,284.47 L257.16,284.45 L258.67,284.43 L260.18,284.41 L261.69,284.4 L263.2,284.39 L264.71,284.38 L266.22,284.38 L267.73,284.39 L269.24,284.4 L270.75,284.41 L272.26,284.43 L273.77,284.45 L275.28,284.47 L276.79,284.5 L278.29,284.53 L279.8,284.57 L281.31,284.61 L282.82,284.65 L284.33,284.69 L285.84,284.74 L287.35,284.8 L288.86,284.85 L290.37,284.91 L291.88,284.98 L293.39,285.04 L294.9,285.11 L296.41,285.18 L297.92,285.26 L299.43,285.34 L300.94,285.42 L302.45,285.5 L303.96,285.59 L305.47,285.68 L306.98,285.77 L308.49,285.86 L310,285.96 L311.51,286.06 L313.02,286.16 L314.53,286.27 L316.04,286.37 L317.55,286.48 L319.06,286.59 L320.57,286.71 L322.08,286.82 L323.59,286.94 L325.1,287.06 L326.6,287.19 L328.11,287.31 L329.62,287.44 L331.13,287.57 L332.64,287.7 L334.15,287.83 L335.66,287.97 L337.17,288.1 L338.68,288.24 L340.19,288.38 L341.7,288.53 L343.21,288.67 L344.72,288.82 L346.23,288.97 L347.74,289.11 L349.25,289.27 L350.76,289.42 L352.27,289.57 L353.78,289.73 L355.29,289.89 L356.8,290.05 L358.31,290.21 L359.82,290.37 L361.33,290.53 L362.84,290.7 L364.35,290.86 L365.86,291.03 L367.37,291.2 L368.88,291.37 L370.39,291.54 L371.9,291.71 L373.41,291.89 L374.92,292.06 L376.42,292.24 L377.93,292.42 L379.44,292.59 L380.95,292.77 L382.46,292.95 L383.97,293.14 L385.48,293.32 L386.99,293.5 L388.5,293.69 L390.01,293.87 L391.52,294.06 L393.03,294.25 L394.54,294.44 L396.05,294.63 L397.56,294.82 L399.07,295.01 L400.58,295.2 L402.09,295.4 L403.6,295.59 L405.11,295.78 L406.62,295.98 L408.13,296.18 L409.64,296.37 L411.15,296.57 L412.66,296.77 L414.17,296.97 L415.68,297.17 L417.19,297.37 L418.7,297.57 L420.21,297.77 L421.72,297.98 L423.23,298.18 L424.73,298.38 L426.24,298.59 L427.75,298.79 L429.26,299 L430.77,299.21 L432.28,299.41 L433.79,299.62 L435.3,299.83 L436.81,300.04 L438.32,300.25 L439.83,300.46 L441.34,300.67 L442.85,300.88 L444.36,301.09 L445.87,301.3 L447.38,301.51 L448.89,301.72 L450.4,301.93 L451.91,302.15 L453.42,302.36 L454.93,302.57 L456.44,302.79 L457.95,303 L459.46,303.22 L460.97,303.43 L462.48,303.65 L463.99,303.86 L465.5,304.08 L467.01,304.3 L468.52,304.51 L470.03,304.73 L471.54,304.95 L473.04,305.16 L474.55,305.38 L476.06,305.6 L477.57,305.82 L479.08,306.04 L480.59,306.25 L482.1,306.47 L483.61,306.69 L485.12,306.91 L486.63,307.13 L488.14,307.35 L489.65,307.57 L491.16,307.79 L492.67,308.01 L494.18,308.23 L495.69,308.45 L497.2,308.67 L498.71,308.89 L500.22,309.11 L501.73,309.33 L503.24,309.56 L504.75,309.78 L506.26,310 L507.77,310.22 L509.28,310.44 L510.79,310.66 L512.3,310.88 L513.81,311.11 L515.32,311.33 L516.83,311.55 L518.34,311.77 L519.85,311.99 L521.35,312.22 L522.86,312.44 L524.37,312.66 L525.88,312.88 L527.39,313.1 L528.9,313.33 L530.41,313.55 L531.92,313.77 L533.43,313.99 L534.94,314.22 L536.45,314.44 L537.96,314.66 L539.47,314.88 L540.98,315.1 L542.49,315.33 L544,315.55" fill="none" stroke="#222" stroke-width="1" stroke-dasharray="1 1.1"/>
<path d="M69.96,440 L76,369.5 L82.04,400.5 L88.07,440 L94.11,440 L100.15,440 L106.19,440 L112.23,408 L118.27,362.7 L124.31,391.4 L130.35,353.8 L136.38,330.1 L142.42,330.1 L148.46,331.5 L154.5,353.8 L160.54,374.2 L166.58,391.8 L172.62,400 L178.66,366.2 L184.69,341.6 L190.73,312.7 L196.77,301 L202.81,301.6 L208.85,300.1 L214.89,304.6 L220.93,306.6 L226.97,309 L233,316.5 L239.04,328.6 L245.08,331.6 L251.12,326.5 L257.16,321.6 L263.2,334.8 L269.24,326.5 L275.28,323.8 L281.31,330.2 L287.35,322.5 L293.39,324.5 L299.43,328.3 L305.47,332.2 L311.51,318 L317.55,315.5 L323.59,319 L329.62,337.1 L335.66,332.9 L341.7,332.3 L347.74,335.1 L353.78,334 L359.82,353.3 L365.86,324 L371.9,307.3 L377.93,324 L383.97,316.9 L390.01,311 L396.05,315.6 L402.09,322.8 L408.13,325.9 L414.17,328.5 L420.21,321.2 L426.24,322.7 L432.28,340.4 L438.32,341.3 L444.36,321 L450.4,347.4 L456.44,385.8 L462.48,389.5 L468.52,408 L474.55,371.4 L480.59,345.5 L486.63,307.9 L492.67,310.1 L498.71,337.9 L504.75,390.9 L510.79,485 L516.83,372.5 L522.86,338.5 L528.9,362.2 L534.94,367.7 L540.98,378.9" fill="none" stroke="#e0383c" stroke-width="1.1"/>
</g>
<circle cx="76" cy="369.5" r="2.6" fill="#f01010"/>
<circle cx="82.04" cy="400.5" r="2.6" fill="#f01010"/>
<circle cx="118.27" cy="362.7" r="2.6" fill="#f01010"/>
<circle cx="124.31" cy="391.4" r="2.6" fill="#f01010"/>
<circle cx="130.35" cy="353.8" r="2.6" fill="#f01010"/>
<circle cx="136.38" cy="330.1" r="2.6" fill="#f01010"/>
<circle cx="142.42" cy="330.1" r="2.6" fill="#f01010"/>
<circle cx="148.46" cy="331.5" r="2.6" fill="#f01010"/>
<circle cx="154.5" cy="353.8" r="2.6" fill="#f01010"/>
<circle cx="160.54" cy="374.2" r="2.6" fill="#f01010"/>
<circle cx="166.58" cy="391.8" r="2.6" fill="#f01010"/>
<circle cx="172.62" cy="400" r="2.6" fill="#f01010"/>
<circle cx="178.66" cy="366.2" r="2.6" fill="#f01010"/>
<circle cx="184.69" cy="341.6" r="2.6" fill="#f01010"/>
<circle cx="190.73" cy="312.7" r="2.6" fill="#f01010"/>
<circle cx="196.77" cy="301" r="2.6" fill="#f01010"/>
<circle cx="202.81" cy="301.6" r="2.6" fill="#f01010"/>
<circle cx="208.85" cy="300.1" r="2.6" fill="#f01010"/>
<circle cx="214.89" cy="304.6" r="2.6" fill="#f01010"/>
<circle cx="220.93" cy="306.6" r="2.6" fill="#f01010"/>
<circle cx="226.97" cy="309" r="2.6" fill="#f01010"/>
<circle cx="233" cy="316.5" r="2.6" fill="#f01010"/>
<circle cx="239.04" cy="328.6" r="2.6" fill="#f01010"/>
<circle cx="245.08" cy="331.6" r="2.6" fill="#f01010"/>
<circle cx="251.12" cy="326.5" r="2.6" fill="#f01010"/>
<circle cx="257.16" cy="321.6" r="2.6" fill="#f01010"/>
<circle cx="263.2" cy="334.8" r="2.6" fill="#f01010"/>
<circle cx="269.24" cy="326.5" r="2.6" fill="#f01010"/>
<circle cx="275.28" cy="323.8" r="2.6" fill="#f01010"/>
<circle cx="281.31" cy="330.2" r="2.6" fill="#f01010"/>
<circle cx="287.35" cy="322.5" r="2.6" fill="#f01010"/>
<circle cx="293.39" cy="324.5" r="2.6" fill="#f01010"/>
<circle cx="299.43" cy="328.3" r="2.6" fill="#f01010"/>
<circle cx="305.47" cy="332.2" r="2.6" fill="#f01010"/>
<circle cx="311.51" cy="318" r="2.6" fill="#f01010"/>
<circle cx="317.55" cy="315.5" r="2.6" fill="#f01010"/>
<circle cx="323.59" cy="319" r="2.6" fill="#f01010"/>
<circle cx="329.62" cy="337.1" r="2.6" fill="#f01010"/>
<circle cx="335.66" cy="332.9" r="2.6" fill="#f01010"/>
<circle cx="341.7" cy="332.3" r="2.6" fill="#f01010"/>
<circle cx="347.74" cy="335.1" r="2.6" fill="#f01010"/>
<circle cx="353.78" cy="334" r="2.6" fill="#f01010"/>
<circle cx="359.82" cy="353.3" r="2.6" fill="#f01010"/>
<circle cx="365.86" cy="324" r="2.6" fill="#f01010"/>
<circle cx="371.9" cy="307.3" r="2.6" fill="#f01010"/>
<circle cx="377.93" cy="324" r="2.6" fill="#f01010"/>
<circle cx="383.97" cy="316.9" r="2.6" fill="#f01010"/>
<circle cx="390.01" cy="311" r="2.6" fill="#f01010"/>
<circle cx="396.05" cy="315.6" r="2.6" fill="#f01010"/>
<circle cx="402.09" cy="322.8" r="2.6" fill="#f01010"/>
<circle cx="408.13" cy="325.9" r="2.6" fill="#f01010"/>
<circle cx="414.17" cy="328.5" r="2.6" fill="#f01010"/>
<circle cx="420.21" cy="321.2" r="2.6" fill="#f01010"/>
<circle cx="426.24" cy="322.7" r="2.6" fill="#f01010"/>
<circle cx="432.28" cy="340.4" r="2.6" fill="#f01010"/>
<circle cx="438.32" cy="341.3" r="2.6" fill="#f01010"/>
<circle cx="444.36" cy="321" r="2.6" fill="#f01010"/>
<circle cx="450.4" cy="347.4" r="2.6" fill="#f01010"/>
<circle cx="456.44" cy="385.8" r="2.6" fill="#f01010"/>
<circle cx="462.48" cy="389.5" r="2.6" fill="#f01010"/>
<circle cx="474.55" cy="371.4" r="2.6" fill="#f01010"/>
<circle cx="480.59" cy="345.5" r="2.6" fill="#f01010"/>
<circle cx="486.63" cy="307.9" r="2.6" fill="#f01010"/>
<circle cx="492.67" cy="310.1" r="2.6" fill="#f01010"/>
<circle cx="498.71" cy="337.9" r="2.6" fill="#f01010"/>
<circle cx="504.75" cy="390.9" r="2.6" fill="#f01010"/>
<circle cx="516.83" cy="372.5" r="2.6" fill="#f01010"/>
<circle cx="522.86" cy="338.5" r="2.6" fill="#f01010"/>
<circle cx="528.9" cy="362.2" r="2.6" fill="#f01010"/>
<circle cx="534.94" cy="367.7" r="2.6" fill="#f01010"/>
<circle cx="540.98" cy="378.9" r="2.6" fill="#f01010"/>
<path clip-path="url(#c3)" d="M69.96,440 L76,367 L82.04,379 L88.07,348.8 L94.11,343.2 L100.15,331.3 L106.19,315.6 L112.23,337 L118.27,343.4 L124.31,321.2 L130.35,327.4 L136.38,352.4 L142.42,369.7 L148.46,371.4 L154.5,334.3 L160.54,324.1 L166.58,312.1 L172.62,310.2 L178.66,322.9 L184.69,331.6 L190.73,362.6 L196.77,376.7 L202.81,372.5 L208.85,381.5 L214.89,356.6 L220.93,334.6 L226.97,328.6 L233,330 L239.04,320.5 L245.08,317.4 L251.12,320.5 L257.16,322.5 L263.2,309.3 L269.24,319.3 L275.28,328 L281.31,315 L287.35,321.8 L293.39,332.8 L299.43,321 L305.47,317.5 L311.51,333.3 L317.55,324.1 L323.59,320.4 L329.62,313.4 L335.66,318.2 L341.7,318.6 L347.74,320.4 L353.78,319 L359.82,308 L365.86,328.5 L371.9,346.9 L377.93,320.8 L383.97,332.3 L390.01,358 L396.05,356.2 L402.09,351.5 L408.13,361.8 L414.17,363.1 L420.21,363.7 L426.24,360.6 L432.28,345.5 L438.32,348.2 L444.36,369.1 L450.4,334.3 L456.44,318.4 L462.48,324.6 L468.52,319.8 L474.55,330.7 L480.59,347.5 L486.63,405 L492.67,426 L498.71,360.8 L504.75,319.6 L510.79,301.7 L516.83,322.3 L522.86,360.2 L528.9,345.5 L534.94,342.7 L540.98,342.7" fill="none" stroke="#3a62e0" stroke-width="1.1"/>
<circle cx="76" cy="367" r="2.6" fill="#1040f0"/>
<circle cx="82.04" cy="379" r="2.6" fill="#1040f0"/>
<circle cx="88.07" cy="348.8" r="2.6" fill="#1040f0"/>
<circle cx="94.11" cy="343.2" r="2.6" fill="#1040f0"/>
<circle cx="100.15" cy="331.3" r="2.6" fill="#1040f0"/>
<circle cx="106.19" cy="315.6" r="2.6" fill="#1040f0"/>
<circle cx="112.23" cy="337" r="2.6" fill="#1040f0"/>
<circle cx="118.27" cy="343.4" r="2.6" fill="#1040f0"/>
<circle cx="124.31" cy="321.2" r="2.6" fill="#1040f0"/>
<circle cx="130.35" cy="327.4" r="2.6" fill="#1040f0"/>
<circle cx="136.38" cy="352.4" r="2.6" fill="#1040f0"/>
<circle cx="142.42" cy="369.7" r="2.6" fill="#1040f0"/>
<circle cx="148.46" cy="371.4" r="2.6" fill="#1040f0"/>
<circle cx="154.5" cy="334.3" r="2.6" fill="#1040f0"/>
<circle cx="160.54" cy="324.1" r="2.6" fill="#1040f0"/>
<circle cx="166.58" cy="312.1" r="2.6" fill="#1040f0"/>
<circle cx="172.62" cy="310.2" r="2.6" fill="#1040f0"/>
<circle cx="178.66" cy="322.9" r="2.6" fill="#1040f0"/>
<circle cx="184.69" cy="331.6" r="2.6" fill="#1040f0"/>
<circle cx="190.73" cy="362.6" r="2.6" fill="#1040f0"/>
<circle cx="196.77" cy="376.7" r="2.6" fill="#1040f0"/>
<circle cx="202.81" cy="372.5" r="2.6" fill="#1040f0"/>
<circle cx="208.85" cy="381.5" r="2.6" fill="#1040f0"/>
<circle cx="214.89" cy="356.6" r="2.6" fill="#1040f0"/>
<circle cx="220.93" cy="334.6" r="2.6" fill="#1040f0"/>
<circle cx="226.97" cy="328.6" r="2.6" fill="#1040f0"/>
<circle cx="233" cy="330" r="2.6" fill="#1040f0"/>
<circle cx="239.04" cy="320.5" r="2.6" fill="#1040f0"/>
<circle cx="245.08" cy="317.4" r="2.6" fill="#1040f0"/>
<circle cx="251.12" cy="320.5" r="2.6" fill="#1040f0"/>
<circle cx="257.16" cy="322.5" r="2.6" fill="#1040f0"/>
<circle cx="263.2" cy="309.3" r="2.6" fill="#1040f0"/>
<circle cx="269.24" cy="319.3" r="2.6" fill="#1040f0"/>
<circle cx="275.28" cy="328" r="2.6" fill="#1040f0"/>
<circle cx="281.31" cy="315" r="2.6" fill="#1040f0"/>
<circle cx="287.35" cy="321.8" r="2.6" fill="#1040f0"/>
<circle cx="293.39" cy="332.8" r="2.6" fill="#1040f0"/>
<circle cx="299.43" cy="321" r="2.6" fill="#1040f0"/>
<circle cx="305.47" cy="317.5" r="2.6" fill="#1040f0"/>
<circle cx="311.51" cy="333.3" r="2.6" fill="#1040f0"/>
<circle cx="317.55" cy="324.1" r="2.6" fill="#1040f0"/>
<circle cx="323.59" cy="320.4" r="2.6" fill="#1040f0"/>
<circle cx="329.62" cy="313.4" r="2.6" fill="#1040f0"/>
<circle cx="335.66" cy="318.2" r="2.6" fill="#1040f0"/>
<circle cx="341.7" cy="318.6" r="2.6" fill="#1040f0"/>
<circle cx="347.74" cy="320.4" r="2.6" fill="#1040f0"/>
<circle cx="353.78" cy="319" r="2.6" fill="#1040f0"/>
<circle cx="359.82" cy="308" r="2.6" fill="#1040f0"/>
<circle cx="365.86" cy="328.5" r="2.6" fill="#1040f0"/>
<circle cx="371.9" cy="346.9" r="2.6" fill="#1040f0"/>
<circle cx="377.93" cy="320.8" r="2.6" fill="#1040f0"/>
<circle cx="383.97" cy="332.3" r="2.6" fill="#1040f0"/>
<circle cx="390.01" cy="358" r="2.6" fill="#1040f0"/>
<circle cx="396.05" cy="356.2" r="2.6" fill="#1040f0"/>
<circle cx="402.09" cy="351.5" r="2.6" fill="#1040f0"/>
<circle cx="408.13" cy="361.8" r="2.6" fill="#1040f0"/>
<circle cx="414.17" cy="363.1" r="2.6" fill="#1040f0"/>
<circle cx="420.21" cy="363.7" r="2.6" fill="#1040f0"/>
<circle cx="426.24" cy="360.6" r="2.6" fill="#1040f0"/>
<circle cx="432.28" cy="345.5" r="2.6" fill="#1040f0"/>
<circle cx="438.32" cy="348.2" r="2.6" fill="#1040f0"/>
<circle cx="444.36" cy="369.1" r="2.6" fill="#1040f0"/>
<circle cx="450.4" cy="334.3" r="2.6" fill="#1040f0"/>
<circle cx="456.44" cy="318.4" r="2.6" fill="#1040f0"/>
<circle cx="462.48" cy="324.6" r="2.6" fill="#1040f0"/>
<circle cx="468.52" cy="319.8" r="2.6" fill="#1040f0"/>
<circle cx="474.55" cy="330.7" r="2.6" fill="#1040f0"/>
<circle cx="480.59" cy="347.5" r="2.6" fill="#1040f0"/>
<circle cx="498.71" cy="360.8" r="2.6" fill="#1040f0"/>
<circle cx="504.75" cy="319.6" r="2.6" fill="#1040f0"/>
<circle cx="510.79" cy="301.7" r="2.6" fill="#1040f0"/>
<circle cx="516.83" cy="322.3" r="2.6" fill="#1040f0"/>
<circle cx="522.86" cy="360.2" r="2.6" fill="#1040f0"/>
<circle cx="528.9" cy="345.5" r="2.6" fill="#1040f0"/>
<circle cx="534.94" cy="342.7" r="2.6" fill="#1040f0"/>
<circle cx="540.98" cy="342.7" r="2.6" fill="#1040f0"/>
<path clip-path="url(#c3)" d="M69.96,600 L76,327 L82.04,350.5 L88.07,328.5 L94.11,327 L100.15,322 L106.19,314.5 L112.23,316.5 L118.27,307.8 L124.31,303.4 L130.35,298.1 L136.38,299 L142.42,302.9 L148.46,306.4 L154.5,301.6 L160.54,301 L166.58,298.2 L172.62,299.5 L178.66,299.2 L184.69,296 L190.73,292.3 L196.77,287.8 L202.81,288.3 L208.85,288.8 L214.89,286.5 L220.93,283.2 L226.97,282.6 L233,286.2 L239.04,288.4 L245.08,287 L251.12,286 L257.16,284.6 L263.2,282.6 L269.24,284.2 L275.28,286 L281.31,284.4 L287.35,285 L293.39,292 L299.43,288 L305.47,288.6 L311.51,291.6 L317.55,287.4 L323.59,288 L329.62,291 L335.66,292.4 L341.7,293.6 L347.74,295 L353.78,292.4 L359.82,291.6 L365.86,291.6 L371.9,288 L377.93,286.4 L383.97,289 L390.01,292.8 L396.05,294 L402.09,297.2 L408.13,302.3 L414.17,307 L420.21,303 L426.24,301.4 L432.28,303 L438.32,304.3 L444.36,300.6 L450.4,302.2 L456.44,306.6 L462.48,312 L468.52,311.8 L474.55,312.2 L480.59,311.2 L486.63,302.5 L492.67,309.2 L498.71,316.2 L504.75,311.2 L510.79,306.5 L516.83,310.1 L522.86,316.2 L528.9,319 L534.94,319 L540.98,324.6" fill="none" stroke="#000" stroke-width="1.75" stroke-linejoin="miter"/>
<line x1="71.8" y1="10" x2="71.8" y2="401" stroke="#111" stroke-width="1.3" stroke-dasharray="3.5 3.5"/>
<path d="M60.9,9H544V401H60.9ZM60.9,124.6H544M60.9,239.4H544" fill="none" stroke="#111" stroke-width="1.6"/>
<path d="M91.09,9v3M91.09,401v-3M91.09,121.6v6M91.09,236.4v6M121.29,9v5.5M121.29,401v-5.5M121.29,119.1v11M121.29,233.9v11M151.48,9v3M151.48,401v-3M151.48,121.6v6M151.48,236.4v6M181.68,9v5.5M181.68,401v-5.5M181.68,119.1v11M181.68,233.9v11M211.87,9v3M211.87,401v-3M211.87,121.6v6M211.87,236.4v6M242.06,9v5.5M242.06,401v-5.5M242.06,119.1v11M242.06,233.9v11M272.26,9v3M272.26,401v-3M272.26,121.6v6M272.26,236.4v6M302.45,9v5.5M302.45,401v-5.5M302.45,119.1v11M302.45,233.9v11M332.64,9v3M332.64,401v-3M332.64,121.6v6M332.64,236.4v6M362.84,9v5.5M362.84,401v-5.5M362.84,119.1v11M362.84,233.9v11M393.03,9v3M393.03,401v-3M393.03,121.6v6M393.03,236.4v6M423.23,9v5.5M423.23,401v-5.5M423.23,119.1v11M423.23,233.9v11M453.42,9v3M453.42,401v-3M453.42,121.6v6M453.42,236.4v6M483.61,9v5.5M483.61,401v-5.5M483.61,119.1v11M483.61,233.9v11M513.81,9v3M513.81,401v-3M513.81,121.6v6M513.81,236.4v6M60.9,111.76h5.7M60.9,98.91h3M60.9,86.07h5.7M60.9,73.22h3M60.9,60.38h5.7M60.9,47.53h3M60.9,34.69h5.7M60.9,21.84h3M544,107.2h-3M544,97.02h-3M544,89.8h-3M544,84.2h-3M544,79.62h-3M544,75.75h-3M544,72.4h-3M544,69.44h-3M544,66.8h-5.7M544,49.4h-3M544,39.22h-3M544,32h-3M544,26.4h-3M544,21.82h-3M544,17.95h-3M544,14.6h-3M544,11.64h-3M544,9h-5.7M60.9,225.05h3M544,225.05h-3M60.9,210.7h5.7M544,210.7h-5.7M60.9,196.35h3M544,196.35h-3M60.9,182h5.7M544,182h-5.7M60.9,167.65h3M544,167.65h-3M60.9,153.3h5.7M544,153.3h-5.7M60.9,138.95h3M544,138.95h-3M60.9,384.48h3M544,384.48h-3M60.9,371.66h3M544,371.66h-3M60.9,361.19h3M544,361.19h-3M60.9,352.33h3M544,352.33h-3M60.9,344.66h3M544,344.66h-3M60.9,337.9h3M544,337.9h-3M60.9,331.84h5.7M544,331.84h-5.7M60.9,292.03h3M544,292.03h-3M60.9,268.74h3M544,268.74h-3M60.9,252.22h3M544,252.22h-3" fill="none" stroke="#111" stroke-width="1.3"/>
<text x="61.2" y="419" font-size="17" text-anchor="middle">0</text>
<text x="122.5" y="419" font-size="17" text-anchor="middle">2</text>
<text x="179.5" y="419" font-size="17" text-anchor="middle">4</text>
<text x="240.7" y="419" font-size="17" text-anchor="middle">6</text>
<text x="301.85" y="419" font-size="17" text-anchor="middle">8</text>
<text x="363.75" y="419" font-size="17" text-anchor="middle">10</text>
<text x="425.25" y="419" font-size="17" text-anchor="middle">12</text>
<text x="486.1" y="419" font-size="17" text-anchor="middle">14</text>
<text x="543.4" y="419" font-size="17" text-anchor="middle">16</text>
<text x="27.57" y="15.6" font-size="17">10<tspan dy="-5.8" font-size="10.3" style="stroke-width:0.1px">-4</tspan></text>
<text x="28.07" y="40.2" font-size="17">10<tspan dy="-5.8" font-size="10.3" style="stroke-width:0.1px">-6</tspan></text>
<text x="27.57" y="65.7" font-size="17">10<tspan dy="-5.8" font-size="10.3" style="stroke-width:0.1px">-8</tspan></text>
<text x="25.97" y="92.4" font-size="17">10<tspan dy="-5.8" font-size="10.3" style="stroke-width:0.1px">-10</tspan></text>
<text x="25.97" y="117.8" font-size="17">10<tspan dy="-5.8" font-size="10.3" style="stroke-width:0.1px">-12</tspan></text>
<text x="28.67" y="158.4" font-size="17">10<tspan dy="-5.8" font-size="10.3" style="stroke-width:0.1px">10</tspan></text>
<text x="28.27" y="187.4" font-size="17">10<tspan dy="-5.8" font-size="10.3" style="stroke-width:0.1px">8</tspan></text>
<text x="28.87" y="217.3" font-size="17">10<tspan dy="-5.8" font-size="10.3" style="stroke-width:0.1px">6</tspan></text>
<text x="28.27" y="245.3" font-size="17">10<tspan dy="-5.8" font-size="10.3" style="stroke-width:0.1px">4</tspan></text>
<text x="28.87" y="338.6" font-size="17">10<tspan dy="-5.8" font-size="10.3" style="stroke-width:0.1px">-3</tspan></text>
<text x="551.67" y="16" font-size="17">10<tspan dy="-5.2" font-size="10.3" style="stroke-width:0.1px">1</tspan></text>
<text x="550.97" y="73" font-size="17">10<tspan dy="-5.3" font-size="10.3" style="stroke-width:0.1px">0</tspan></text>
<text x="550.97" y="126.4" font-size="17">10<tspan dy="-5.3" font-size="10.3" style="stroke-width:0.1px">-1</tspan></text>
<text transform="translate(14.6,69.9) rotate(-90)" font-size="17" text-anchor="middle">&#961; [g cm<tspan dy="-6" font-size="10.5" style="stroke-width:0.1px">-3</tspan><tspan dy="6" style="stroke-width:0.2px">]</tspan></text>
<text transform="translate(14.6,185.6) rotate(-90)" font-size="17" text-anchor="middle"><tspan class="it">T</tspan><tspan dy="5.8" font-size="10.5" style="stroke-width:0.1px">gas</tspan><tspan dy="-5.8">, </tspan><tspan class="it">T</tspan><tspan dy="5.8" font-size="10.5" style="stroke-width:0.1px">rad</tspan><tspan dy="-5.8"> [K]</tspan></text>
<text transform="translate(14.6,319.9) rotate(-90)" font-size="17" text-anchor="middle">Force [<tspan class="it">c</tspan><tspan dy="-6" font-size="10.5" style="stroke-width:0.1px">2</tspan><tspan dy="6" class="it">/R</tspan><tspan dy="6.2" font-size="11.5" class="it" style="stroke-width:0.1px">S</tspan><tspan dy="-6.2">]</tspan></text>
<g transform="translate(590.0,0) rotate(-90)">
<path transform="translate(-84.5,0) scale(1.0)" d="M0,-6.4 C0.6,-7.4 2.2,-7.5 2.0,-5.6 C1.8,-3.6 1.0,0.1 3.3,0.1 C5.6,0.1 7.0,-3.8 6.5,-7.2" fill="none" stroke="#000" stroke-width="1.6" stroke-linecap="round"/>
<text x="-75.1" y="6.4" font-size="9" style="stroke-width:0.1px" class="it">z</text>
<path d="M-69.2,0 L-65.2,-10.5" stroke="#000" stroke-width="1.1"/>
<path transform="translate(-63.2,0) scale(1.0)" d="M0,-6.4 C0.6,-7.4 2.2,-7.5 2.0,-5.6 C1.8,-3.6 1.0,0.1 3.3,0.1 C5.6,0.1 7.0,-3.8 6.5,-7.2" fill="none" stroke="#000" stroke-width="1.6" stroke-linecap="round"/>
<text x="-54.6" y="6.4" font-size="9.3" style="stroke-width:0.1px">esc</text>
</g>
<text x="290" y="439" font-size="20" class="it">z</text>
<path d="M297.7,439.0 L302.0,425.7" stroke="#000" stroke-width="1.25"/>
<text x="303.2" y="439" font-size="20" class="it">R</text>
<text x="315.8" y="446" font-size="11.5" style="stroke-width:0.1px">S</text>
<text x="95.3" y="27.6" font-size="15.6">Photosphere</text>
<path d="M72.3,17.3 L94.2,21" stroke="#000" stroke-width="1.1" fill="none"/>
<text x="466.9" y="35.5" font-size="17">Model B</text>
<text x="467" y="56.2" font-size="17" class="it">r</text>
<path d="M473.6,56.4 L477.1,45.9" stroke="#000" stroke-width="1.1"/>
<text x="478.1" y="56.2" font-size="17" class="it">R</text>
<text x="488.6" y="62.6" font-size="10.5" style="stroke-width:0.1px">S</text>
<text x="494.45" y="56.2" font-size="17">=</text>
<text x="505.4" y="56.2" font-size="17">10</text>
<text x="99.2" y="84" font-size="16.3" style="fill:#d01818;stroke:#d01818">&#961;</text>
<path transform="translate(215.4,107.3) scale(1.0)" d="M0,-6.4 C0.6,-7.4 2.2,-7.5 2.0,-5.6 C1.8,-3.6 1.0,0.1 3.3,0.1 C5.6,0.1 7.0,-3.8 6.5,-7.2" fill="none" stroke="#000" stroke-width="1.6" stroke-linecap="round"/>
<text x="223.6" y="112.9" font-size="9" style="stroke-width:0.1px" class="it">z</text>
<path d="M228.9,107.6 L232.6,97.6" stroke="#000" stroke-width="1.1"/>
<path transform="translate(233.1,107.3) scale(1.0)" d="M0,-6.4 C0.6,-7.4 2.2,-7.5 2.0,-5.6 C1.8,-3.6 1.0,0.1 3.3,0.1 C5.6,0.1 7.0,-3.8 6.5,-7.2" fill="none" stroke="#000" stroke-width="1.6" stroke-linecap="round"/>
<text x="241.6" y="112.6" font-size="9.3" style="stroke-width:0.1px">esc</text>
<text x="123.65" y="162.2" font-size="15" style="fill:#d01818;stroke:#d01818" class="it">T</text>
<text x="132.3" y="168.2" font-size="9" style="fill:#d01818;stroke:#d01818;stroke-width:0.1px">gas</text>
<text x="123.75" y="206.1" font-size="15" class="it">T</text>
<text x="132.6" y="211.5" font-size="9" style="stroke-width:0.1px">rad</text>
<text x="116.5" y="294.2" font-size="15.6">Total</text>
<text x="297.2" y="262.2" font-size="15.6">Gravity</text>
<path d="M319.3,265.3 L340.7,287.3 M332.7,282.4 L340.7,287.3 L337.3,279.3" stroke="#000" stroke-width="1.1" fill="none"/>
<text x="283.9" y="365.9" font-size="15.6" style="fill:#d42020;stroke:#d42020">Gas Pressure</text>
<text x="214.4" y="387.5" font-size="15.6" style="fill:#2244cc;stroke:#2244cc">Magnetic Pressure</text>
</svg></body></html>
